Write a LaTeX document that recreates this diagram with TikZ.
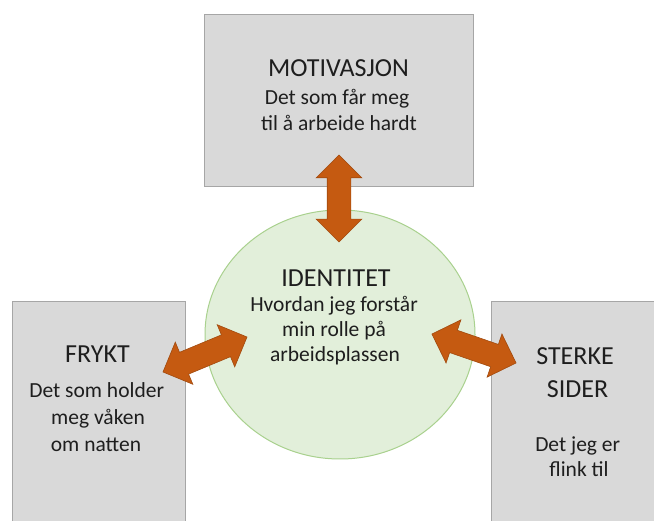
\documentclass[tikz,border=0pt]{standalone}
\usepackage{fontspec}
\setmainfont{Carlito}
\usetikzlibrary{shapes.arrows,shapes.geometric}
\definecolor{boxfill}{HTML}{D9D9D9}
\definecolor{boxline}{HTML}{A6A6A6}
\definecolor{circfill}{HTML}{E2EFDA}
\definecolor{circline}{HTML}{A9D18E}
\definecolor{arrfill}{HTML}{C55A11}
\definecolor{arrline}{HTML}{A14A0E}
\definecolor{txt}{HTML}{1E1E1E}
\begin{document}
\begin{tikzpicture}[x=1pt,y=-1pt,
  box/.style={draw=boxline,fill=boxfill,line width=1pt,inner sep=0pt},
  ttl/.style={font=\fontsize{26}{28}\selectfont,anchor=base,text=txt,inner sep=0pt},
  body/.style={font=\fontsize{21.5}{25}\selectfont,anchor=base,text=txt,inner sep=0pt},
  dbl/.style={double arrow,draw=arrline,fill=arrfill,line width=0.6pt,
    inner xsep=0pt,inner ysep=11.5pt,double arrow head extend=11pt,
    double arrow tip angle=90}]
\useasboundingbox (0,0) rectangle (654,521);
\fill[white] (0,0) rectangle (654,521);
\begin{scope}
\clip (0,0) rectangle (654,521);
\node[box,minimum width=269pt,minimum height=172pt] (mot) at (338.5,101) {};
\node[box,minimum width=173pt,minimum height=240pt] (fry) at (98.5,422) {};
\node[box,minimum width=185pt,minimum height=240pt] (ste) at (583.5,422) {};
\end{scope}
\node[ellipse,draw=circline,fill=circfill,line width=1pt,
  minimum width=270pt,minimum height=249pt,inner sep=0pt] (ide) at (340,334.5) {};

% arrows
\node[dbl,minimum height=87pt,rotate=90] (a1) at (339,198.5) {};
\node[dbl,minimum height=91pt,rotate=22.6] (a2) at (205,354.5) {};
\node[dbl,minimum height=89pt,rotate=-19] (a3) at (474,348.5) {};

% texts
\node[ttl] (mt) at (338.5,76.7) {MOTIVASJON};
\node[body] (mb1) at (337,105) {Det som får meg};
\node[body] (mb2) at (339,131) {til å arbeide hardt};

\node[ttl] (it) at (336,287) {IDENTITET};
\node[body] (ib1) at (334,312) {Hvordan jeg forstår};
\node[body] (ib2) at (334,337) {min rolle på};
\node[body] (ib3) at (335,362) {arbeidsplassen};

\node[ttl] (ft) at (97.5,363) {FRYKT};
\node[body] (fb1) at (96.7,398) {Det som holder};
\node[body] (fb2) at (98,425) {meg våken};
\node[body] (fb3) at (96,452) {om natten};

\node[ttl] (st1) at (575,365) {STERKE};
\node[ttl] (st2) at (577.5,398) {SIDER};
\node[body] (sb1) at (577.7,452) {Det jeg er};
\node[body] (sb2) at (579,477) {flink til};
\end{tikzpicture}
\end{document}
